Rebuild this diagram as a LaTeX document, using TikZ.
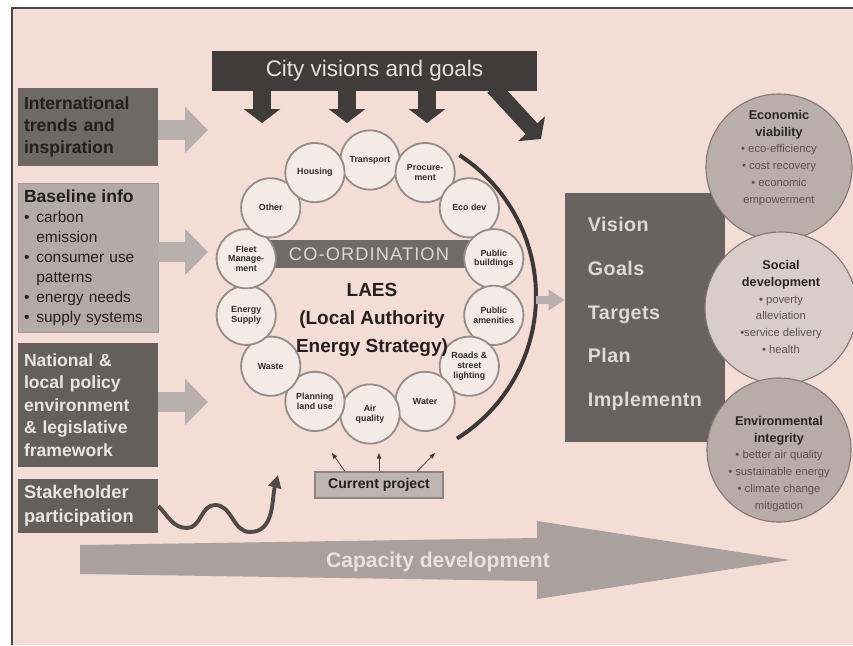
\documentclass[tikz,border=0pt]{standalone}
\usepackage{fontspec}
\setmainfont{Liberation Sans}
\usepackage{tikz}
\usetikzlibrary{arrows.meta}
\usetikzlibrary{calc}

\definecolor{bgpink}{RGB}{243,221,212}
\definecolor{framegrey}{RGB}{74,70,70}
\definecolor{citydark}{RGB}{64,60,60}
\definecolor{citytext}{RGB}{232,224,220}
\definecolor{panelmid}{RGB}{110,104,103}
\definecolor{panellight}{RGB}{180,171,169}
\definecolor{panellightedge}{RGB}{160,152,150}
\definecolor{paneldark}{RGB}{100,94,93}
\definecolor{darktext}{RGB}{35,31,31}
\definecolor{lighttext}{RGB}{236,228,224}
\definecolor{arrowgrey}{RGB}{184,176,174}
\definecolor{coordgrey}{RGB}{112,106,105}
\definecolor{coordtext}{RGB}{222,214,210}
\definecolor{ringfill}{RGB}{244,234,230}
\definecolor{ringedge}{RGB}{150,141,139}
\definecolor{ringtext}{RGB}{50,46,46}
\definecolor{darkline}{RGB}{60,56,56}
\definecolor{planbox}{RGB}{104,98,97}
\definecolor{plantext}{RGB}{224,216,212}
\definecolor{goaledge}{RGB}{130,121,119}
\definecolor{econfill}{RGB}{186,174,171}
\definecolor{socialfill}{RGB}{216,205,201}
\definecolor{envfill}{RGB}{184,172,169}
\definecolor{goalbody}{RGB}{90,82,80}
\definecolor{goalheadc}{RGB}{40,36,36}
\definecolor{capfill}{RGB}{170,161,159}
\definecolor{captext}{RGB}{234,225,221}
\definecolor{cpfill}{RGB}{190,181,178}
\definecolor{cpedge}{RGB}{140,132,130}
\definecolor{wavegrey}{RGB}{80,75,75}

\newcommand{\goalhead}[1]{{\fontsize{9}{12}\selectfont\bfseries\color{goalheadc}#1}}

\begin{document}
\begin{tikzpicture}[line join=miter,
        panel_style/.style={rectangle, inner xsep=0.15cm, inner ysep=0pt, text width=3.2cm, align=left, font=\fontsize{12.5}{15.6}\selectfont\bfseries},
        ring_style/.style={circle, draw=ringedge, line width=1.3pt, fill=ringfill, minimum size=1.48cm, inner sep=0pt, align=center, text=ringtext, font=\fontsize{6.3}{7}\selectfont\bfseries},
        goal_style/.style={circle, draw=goaledge, line width=0.8pt, inner sep=0pt},
        goal_text/.style={align=center, text=goalbody, font=\fontsize{8}{12}\selectfont},
        block_arrow/.style={draw=arrowgrey, line width=0.5cm, -{Triangle[width=1.125cm,length=0.575cm]}},
        down_arrow/.style={draw=citydark, line width=0.45cm, -{Triangle[width=0.9cm,length=0.35cm]}},
        thin_arrow/.style={draw=darkline, line width=0.5pt, -{Triangle[width=3pt,length=4pt]}}]

        % page and frame
        \useasboundingbox (0,0) rectangle (21.325,-16.125);
        \fill [white] (0,0) rectangle (21.325,-16.125);
        \fill [bgpink] (0.3,-0.2) rectangle (21.325,-16.125);
        \draw [framegrey, line width=1.4pt] (0.3,-16.125) -- (0.3,-0.2) -- (21.325,-0.2);

        % capacity arrow along the bottom
        \fill [capfill] (2,-13.625) -- (13.425,-13.45) -- (13.425,-13.025) -- (19.75,-14) -- (13.425,-14.975) -- (13.425,-14.525) -- (2,-14.35) -- cycle;
        \node [text=captext, font=\fontsize{15}{18}\selectfont\bfseries](cap) at (10.95,-14.05) {Capacity development};

        % city visions
        \node [rectangle, fill=citydark, minimum width=8.125cm, minimum height=1cm, text=citytext, font=\fontsize{16}{19}\selectfont](city) at (9.363,-1.775) {City visions and goals};
        \coordinate (d1) at (6.55,-3.075);
        \coordinate (d2) at (8.675,-3.075);
        \coordinate (d3) at (10.675,-3.075);
        \coordinate (d4) at (13.525,-3.475);
        \draw [down_arrow] (city.south -| d1) -- (d1);
        \draw [down_arrow] (city.south -| d2) -- (d2);
        \draw [down_arrow] (city.south -| d3) -- (d3);
        \draw [down_arrow, line width=0.4cm] ([xshift=-1.1cm,yshift=0.1cm]city.south east) -- (d4);

        % inputs on the left
        \node [panel_style, fill=panelmid, minimum height=1.95cm, text=darktext](p1) at (2.2,-3.175) {International\\trends and\\inspiration};
        \node [panel_style, fill=panellight, draw=panellightedge, minimum height=3.725cm, text=darktext, font=\fontsize{11}{14.2}\selectfont](p2) at (2.2,-6.4375) {{\fontsize{12.5}{15}\selectfont\bfseries Baseline info}\\
            \makebox[0.8em][l]{\textbullet}carbon\\ \hspace*{0.8em}emission\\
            \makebox[0.8em][l]{\textbullet}consumer use\\ \hspace*{0.8em}patterns\\
            \makebox[0.8em][l]{\textbullet}energy needs\\
            \makebox[0.8em][l]{\textbullet}supply systems};
        \node [panel_style, fill=paneldark, minimum height=3.1cm, text=lighttext, font=\fontsize{12.5}{16}\selectfont\bfseries](p3) at (2.2,-10.125) {National \&\\local policy\\environment\\\& legislative\\framework};
        \node [panel_style, fill=paneldark, minimum height=1.35cm, text=lighttext, font=\fontsize{13}{17}\selectfont\bfseries](p4) at (2.2,-12.65) {Stakeholder\\participation};

        \coordinate (t1) at (5.2,-3.25);
        \coordinate (t2) at (5.2,-6.3);
        \coordinate (t3) at (5.2,-10.05);
        \draw [block_arrow] (p1.east |- t1) -- (t1);
        \draw [block_arrow] (p2.east |- t2) -- (t2);
        \draw [block_arrow] (p3.east |- t3) -- (t3);

        \coordinate (w1) at (6.95,-11.875);
        \draw [draw=wavegrey, line width=2.8pt, -{Triangle[width=0.32cm,length=0.32cm]}] (p4.east) to[out=-45,in=180] (4.675,-13.2) to[out=0,in=180] (5.375,-12.625) to[out=0,in=180] (6.25,-13.3) to[out=0,in=-105] (w1);

        % co-ordination ring
        \node [rectangle, fill=coordgrey, minimum width=5.05cm, minimum height=0.7cm, text=coordtext, font=\fontsize{13}{15}\selectfont\addfontfeature{LetterSpace=6}](coord) at (9.225,-6.35) {CO-ORDINATION};

        \node [ring_style](r1) at (9.25,-4.0) {Transport};
        \node [ring_style](r2) at (10.628,-4.315) {Procure-\\ment};
        \node [ring_style](r3) at (11.733,-5.195) {Eco dev};
        \node [ring_style](r4) at (12.345,-6.468) {Public\\buildings};
        \node [ring_style](r5) at (12.345,-7.883) {Public\\amenities};
        \node [ring_style](r6) at (11.733,-9.155) {Roads \&\\street\\lighting};
        \node [ring_style](r7) at (10.628,-10.035) {Water};
        \node [ring_style](r8) at (9.25,-10.35) {Air\\quality};
        \node [ring_style](r9) at (7.873,-10.035) {Planning\\land use};
        \node [ring_style](r10) at (6.768,-9.155) {Waste};
        \node [ring_style](r11) at (6.155,-7.883) {Energy\\Supply};
        \node [ring_style](r12) at (6.155,-6.468) {Fleet\\Manage-\\ment};
        \node [ring_style](r13) at (6.768,-5.195) {Other};
        \node [ring_style](r14) at (7.873,-4.315) {Housing};

        \node [align=center, text=darktext, font=\fontsize{13.5}{20}\selectfont\bfseries](laes) at (9.3,-8.0) {LAES\\(Local Authority\\Energy Strategy)};

        \draw [darkline, line width=2.8pt] (11.487,-3.878) arc[start angle=57, end angle=-58, radius=4.2cm];
        \coordinate (a1) at (13.4,-7.5);

        % current project
        \node [rectangle, fill=cpfill, draw=cpedge, line width=0.8pt, minimum width=3.2cm, minimum height=0.65cm, text=darktext, font=\fontsize{10}{12}\selectfont\bfseries](cp) at (9.475,-12.125) {Current project};
        \coordinate (c1) at (8.3,-11.325);
        \coordinate (c2) at (9.475,-11.325);
        \coordinate (c3) at (10.875,-11.325);
        \draw [thin_arrow] ([xshift=-0.85cm]cp.north) -- (c1);
        \draw [thin_arrow] (cp.north) -- (c2);
        \draw [thin_arrow] ([xshift=0.95cm]cp.north) -- (c3);

        % plan box and outcomes
        \node [rectangle, fill=planbox, minimum width=4cm, minimum height=6.225cm](plan) at (16.125,-7.9375) {};
        \node [anchor=west, align=left, text=plantext, font=\fontsize{14}{31}\selectfont\bfseries\addfontfeature{LetterSpace=2}](steps) at (14.575,-7.85) {Vision\\Goals\\Targets\\Plan\\Implementn};
        \draw [draw=arrowgrey, line width=0.2cm, -{Triangle[width=0.5cm,length=0.4cm]}] (a1) -- (plan.west |- a1);

        \node [goal_style, fill=econfill, minimum size=3.65cm](g1) at (19.475,-4.175) {};
        \node [goal_text](g1t) at (19.475,-3.95) {\goalhead{Economic}\\\goalhead{viability}\\\textbullet{} eco-efficiency\\\textbullet{} cost recovery\\\textbullet{} economic\\empowerment};
        \node [goal_style, fill=socialfill, minimum size=3.8cm](g2) at (19.525,-7.7) {};
        \node [goal_text](g2t) at (19.525,-7.675) {\goalhead{Social}\\\goalhead{development}\\\textbullet{} poverty\\alleviation\\\textbullet service delivery\\\textbullet{} health};
        \node [goal_style, fill=envfill, minimum size=3.6cm](g3) at (19.475,-11.25) {};
        \node [goal_text](g3t) at (19.475,-11.6) {\goalhead{Environmental}\\\goalhead{integrity}\\\textbullet{} better air quality\\\textbullet{} sustainable energy\\\textbullet{} climate change\\mitigation};
\end{tikzpicture}
\end{document}
